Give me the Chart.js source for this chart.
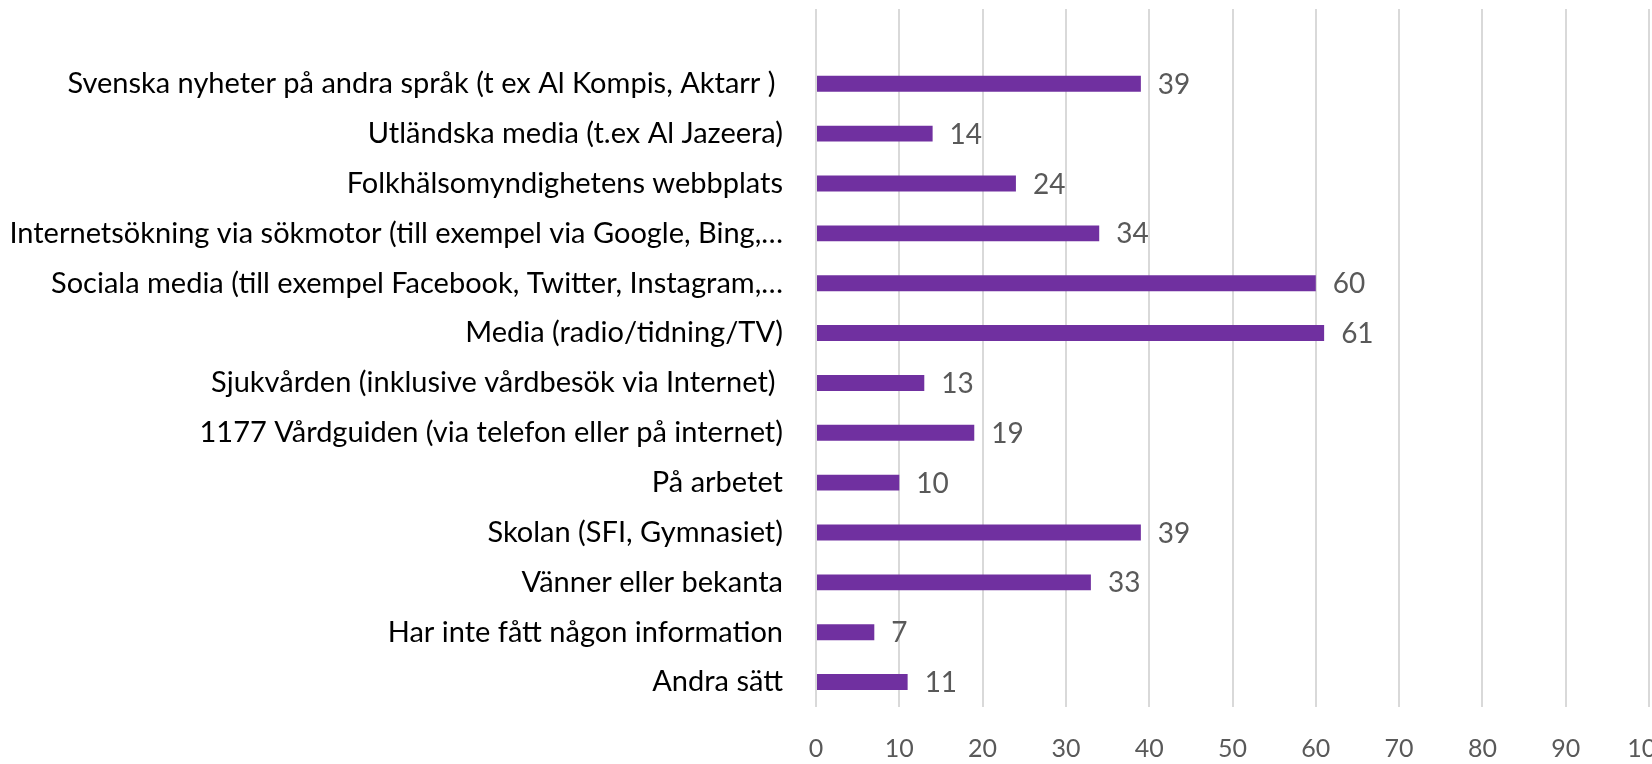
<!DOCTYPE html>
<html>
<head>
<meta charset="utf-8">
<script src="https://cdn.jsdelivr.net/npm/chart.js@4/dist/chart.umd.min.js"></script>
<style>
  html, body { margin: 0; padding: 0; background: #fff; overflow: hidden; }
  canvas { display: block; }
</style>
</head>
<body>
<canvas id="barChartSources" width="1700" height="764"></canvas>
<script>
// Informationskällor - horisontellt stapeldiagram

const categories = [
    'Svenska nyheter på andra språk (t ex Al Kompis, Aktarr ) ',
    'Utländska media (t.ex Al Jazeera)',
    'Folkhälsomyndighetens webbplats',
    'Internetsökning via sökmotor (till exempel via Google, Bing,…',
    'Sociala media (till exempel Facebook, Twitter, Instagram,…',
    'Media (radio/tidning/TV)',
    'Sjukvården (inklusive vårdbesök via Internet) ',
    '1177 Vårdguiden (via telefon eller på internet)',
    'På arbetet',
    'Skolan (SFI, Gymnasiet)',
    'Vänner eller bekanta',
    'Har inte fått någon information',
    'Andra sätt'
];
const values = [39, 14, 24, 34, 60, 61, 13, 19, 10, 39, 33, 7, 11];
const xTicks = [0, 10, 20, 30, 40, 50, 60, 70, 80, 90, 100];

const FONT = 'Lato, "Open Sans", sans-serif';
const GREY = '#595959';

// value labels to the right of each bar
const valueLabels = {
    id: 'valueLabels',
    afterDatasetsDraw(chart) {
        const ctx = chart.ctx;
        const meta = chart.getDatasetMeta(0);
        ctx.save();
        ctx.font = '28px ' + FONT;
        ctx.fillStyle = GREY;
        ctx.textAlign = 'left';
        ctx.textBaseline = 'middle';
        meta.data.forEach(function(bar, i) {
            const v = chart.data.datasets[0].data[i];
            if (v === null) return;
            ctx.fillText(String(v), bar.x + 17, bar.y + 1);
        });
        ctx.restore();
    }
};

document.addEventListener('DOMContentLoaded', function() {
    new Chart(document.getElementById('barChartSources').getContext('2d'), {
        type: 'bar',
        data: {
            // empty slot on top, like in the original sheet
            labels: [''].concat(categories),
            datasets: [{
                data: [null].concat(values),
                backgroundColor: '#7030A0',
                barPercentage: 0.32,
                categoryPercentage: 1
            }]
        },
        options: {
            indexAxis: 'y',
            responsive: false,
            animation: false,
            devicePixelRatio: 1,
            layout: { padding: { top: 9, right: 51, left: 0, bottom: 0 } },
            plugins: { legend: { display: false }, tooltip: { enabled: false } },
            scales: {
                x: {
                    min: 0,
                    max: 100,
                    afterBuildTicks: function(scale) {
                        scale.ticks = xTicks.map(function(v) { return { value: v }; });
                    },
                    afterFit: function(scale) { scale.height = 57; },
                    grid: { color: '#d9d9d9', lineWidth: 2, drawTicks: false },
                    border: { display: false },
                    ticks: {
                        color: GREY,
                        font: { family: FONT, size: 25 },
                        padding: 27,
                        maxRotation: 0,
                        autoSkip: false
                    }
                },
                y: {
                    afterFit: function(scale) {
                        scale.width = 816;
                        scale.paddingTop = 0;
                        scale.paddingBottom = 0;
                    },
                    grid: { display: false },
                    border: { display: false },
                    ticks: {
                        color: '#000000',
                        font: { family: FONT, size: 29 },
                        padding: 25,
                        autoSkip: false
                    }
                }
            }
        },
        plugins: [valueLabels]
    });
});
</script>
</body>
</html>
